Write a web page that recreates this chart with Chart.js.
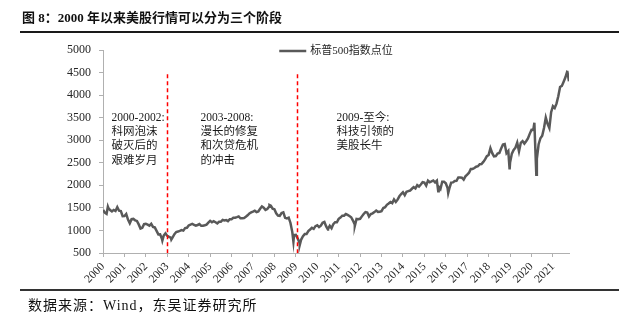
<!DOCTYPE html>
<html>
<head>
<meta charset="utf-8">
<script src="https://cdn.jsdelivr.net/npm/chart.js@4.4.1/dist/chart.umd.min.js"></script>
<style>
  body { margin: 0; width: 640px; height: 321px; background: #fff; position: relative; overflow: hidden;
         font-family: "Liberation Serif", "Noto Sans CJK SC", serif; }
  #wrap { position: absolute; left: 0; top: 0; width: 640px; height: 321px; }
  #title { position: absolute; left: 22px; top: 7px; font-size: 13px; font-weight: bold; color: #111; white-space: nowrap; }
  #rule1 { position: absolute; left: 20px; width: 599px; top: 31px; height: 2px; background: #1a1a1a; }
  #rule2 { position: absolute; left: 20px; width: 599px; top: 289px; height: 1.5px; background: #333; }
  #source { position: absolute; left: 28px; top: 294px; font-size: 14px; letter-spacing: 1px; color: #111; white-space: nowrap; }
</style>
</head>
<body>
<div id="wrap"><canvas id="myChart"></canvas></div>
<div id="title">图 8：2000 年以来美股行情可以分为三个阶段</div>
<div id="rule1"></div>
<div id="rule2"></div>
<div id="source">数据来源：Wind，东吴证券研究所</div>
<script>
// S&P 500 month-end closes
var close2000 = [1394, 1366, 1499, 1452, 1421, 1455, 1431, 1518, 1437, 1429, 1315, 1320];
var close2001 = [1366, 1240, 1160, 1249, 1256, 1224, 1211, 1134, 1041, 1060, 1139, 1148];
var close2002 = [1130, 1107, 1147, 1077, 1067, 990, 912, 916, 815, 886, 936, 880];
var close2003 = [856, 841, 848, 917, 964, 975, 990, 1008, 996, 1051, 1058, 1112];
var close2004 = [1131, 1145, 1126, 1107, 1121, 1141, 1102, 1104, 1115, 1130, 1174, 1212];
var close2005 = [1181, 1204, 1181, 1157, 1192, 1191, 1234, 1220, 1229, 1207, 1249, 1248];
var close2006 = [1280, 1281, 1295, 1311, 1270, 1270, 1277, 1304, 1336, 1378, 1401, 1418];
var close2007 = [1438, 1407, 1421, 1482, 1531, 1503, 1455, 1474, 1527, 1549, 1481, 1468];
var close2008 = [1379, 1331, 1323, 1386, 1400, 1280, 1267, 1283, 1166, 969, 896, 903];
var close2009 = [826, 735, 798, 873, 919, 919, 987, 1021, 1057, 1036, 1096, 1115];
var close2010 = [1074, 1104, 1169, 1187, 1089, 1031, 1102, 1049, 1141, 1183, 1181, 1258];
var close2011 = [1286, 1327, 1326, 1364, 1345, 1321, 1292, 1219, 1131, 1253, 1247, 1258];
var close2012 = [1312, 1366, 1408, 1398, 1310, 1362, 1379, 1407, 1441, 1412, 1416, 1426];
var close2013 = [1498, 1515, 1569, 1598, 1631, 1606, 1686, 1633, 1682, 1757, 1806, 1848];
var close2014 = [1783, 1859, 1872, 1884, 1924, 1960, 1931, 2003, 1972, 2018, 2068, 2059];
var close2015 = [1995, 2105, 2068, 2086, 2107, 2063, 2104, 1972, 1920, 2079, 2080, 2044];
var close2016 = [1940, 1932, 2060, 2065, 2097, 2099, 2174, 2171, 2168, 2126, 2199, 2239];
var close2017 = [2279, 2364, 2363, 2384, 2412, 2423, 2470, 2472, 2519, 2575, 2648, 2674];
var close2018 = [2824, 2714, 2641, 2648, 2705, 2718, 2816, 2902, 2914, 2712, 2760, 2507];
var close2019 = [2704, 2784, 2834, 2946, 2752, 2942, 2980, 2926, 2977, 3038, 3141, 3231];
var close2020 = [3226, 2954, 2585, 2912, 3044, 3100, 3271, 3500, 3363, 3270, 3622, 3756];
var close2021 = [3714, 3811, 3973, 4181, 4204, 4298, 4395, 4523, 4308];

var yearly = [close2000, close2001, close2002, close2003, close2004, close2005, close2006, close2007,
              close2008, close2009, close2010, close2011, close2012, close2013, close2014, close2015,
              close2016, close2017, close2018, close2019, close2020, close2021];

// intra-month highs and lows visible in the picture
var extremeDates = ["2000-01-03", "2000-03-24", "2002-10-09", "2003-03-11", "2007-10-09", "2008-11-20",
                    "2009-03-09", "2010-07-02", "2011-10-03", "2015-08-25", "2016-02-11", "2018-12-24",
                    "2020-02-19", "2020-03-23", "2021-09-02"];
var extremeValues = [1455, 1527, 777, 800, 1565, 752, 677, 1022, 1099, 1868, 1829, 2351, 3386, 2237, 4537];

var xTickYears = [2000, 2001, 2002, 2003, 2004, 2005, 2006, 2007, 2008, 2009, 2010,
                  2011, 2012, 2013, 2014, 2015, 2016, 2017, 2018, 2019, 2020, 2021];

var seriesName = "标普500指数点位";
var phaseText = [
    ["2000-2002:", "科网泡沫", "破灭后的", "艰难岁月"],
    ["2003-2008:", "漫长的修复", "和次贷危机", "的冲击"],
    ["2009-至今:", "科技引领的", "美股长牛"]
];
var phaseBreaks = [2003.0, 2009.05];

var points = [];
yearly.forEach(function (arr, i) {
    arr.forEach(function (v, m) { points.push({x: 2000 + i + (m + 1) / 12, y: v}); });
});
extremeDates.forEach(function (d, i) {
    var dt = new Date(d + "T00:00:00Z");
    var y0 = Date.UTC(dt.getUTCFullYear(), 0, 1);
    var doy = (dt - y0) / 86400000;
    points.push({x: dt.getUTCFullYear() + doy / 365, y: extremeValues[i]});
});
points.sort(function (a, b) { return a.x - b.x; });

var FONT = '"Liberation Serif", "Noto Sans CJK SC", serif';
Chart.defaults.font.family = FONT;
Chart.defaults.font.size = 11;
Chart.defaults.color = "#262626";

// dashed phase separators, phase notes and the legend
var phasePlugin = {
    id: "phases",
    afterDatasetsDraw: function (chart) {
        var ctx = chart.ctx, xs = chart.scales.x, ys = chart.scales.y, area = chart.chartArea;
        ctx.save();
        ctx.strokeStyle = "#ff0000";
        ctx.lineWidth = 1.5;
        ctx.setLineDash([4, 3]);
        phaseBreaks.forEach(function (b) {
            var px = Math.round(xs.getPixelForValue(b)) + 0.5;
            ctx.beginPath();
            ctx.moveTo(px, ys.getPixelForValue(4460));
            ctx.lineTo(px, ys.getPixelForValue(500));
            ctx.stroke();
        });
        ctx.setLineDash([]);
        ctx.fillStyle = "#1a1a1a";
        ctx.font = "11.5px " + FONT;
        ctx.textBaseline = "middle";
        ctx.textAlign = "left";
        var anchors = [2000.4, 2004.55, 2010.9];
        phaseText.forEach(function (lines, i) {
            var px = xs.getPixelForValue(anchors[i]);
            var py = ys.getPixelForValue(3500);
            lines.forEach(function (t, j) { ctx.fillText(t, px, py + j * 14.4); });
        });

        // legend
        var ds = chart.data.datasets[0];
        ctx.font = "11px " + FONT;
        var tw = ctx.measureText(ds.label).width;
        var boxW = 27, gap = 4;
        var lx = (area.left + area.right) / 2 - (boxW + gap + tw) / 2;
        var ly = area.top + 1;
        ctx.strokeStyle = ds.borderColor;
        ctx.lineWidth = 2.5;
        ctx.beginPath();
        ctx.moveTo(lx, ly);
        ctx.lineTo(lx + boxW, ly);
        ctx.stroke();
        ctx.fillStyle = "#262626";
        ctx.fillText(ds.label, lx + boxW + gap, ly);
        ctx.restore();
    }
};

new Chart("myChart", {
    type: "line",
    data: {
        datasets: [{
            label: seriesName,
            data: points,
            borderColor: "#595959",
            backgroundColor: "#595959",
            borderWidth: 2.5,
            pointRadius: 0,
            tension: 0,
            fill: false
        }]
    },
    options: {
        responsive: true,
        maintainAspectRatio: false,
        animation: false,
        layout: {padding: {left: 53, right: 71, top: 50, bottom: 4}},
        plugins: {
            legend: {display: false},
            tooltip: {enabled: false}
        },
        scales: {
            x: {
                type: "linear",
                min: 2000,
                max: 2021.75,
                afterFit: function (s) { s.height = 64; },
                afterBuildTicks: function (s) {
                    s.ticks = xTickYears.map(function (v) { return {value: v}; });
                },
                ticks: {
                    autoSkip: false,
                    maxRotation: 45,
                    minRotation: 45,
                    padding: 3,
                    font: {size: 11.5},
                    callback: function (v) { return String(v); }
                },
                grid: {drawOnChartArea: false, tickLength: 4, color: "#b0b0b0"},
                border: {color: "#b0b0b0", width: 1}
            },
            y: {
                min: 500,
                max: 5000,
                afterFit: function (s) { s.width = 50; },
                ticks: {
                    stepSize: 500,
                    padding: 8,
                    font: {size: 12},
                    callback: function (v) { return String(v); }
                },
                grid: {drawOnChartArea: false, tickLength: 4, color: "#b0b0b0"},
                border: {color: "#b0b0b0", width: 1}
            }
        }
    },
    plugins: [phasePlugin]
});
</script>
</body>
</html>
